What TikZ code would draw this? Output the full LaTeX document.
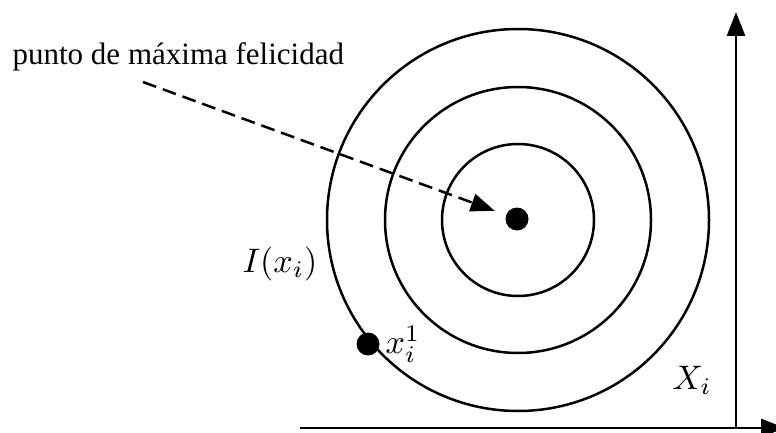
\documentclass[tikz,border=0pt]{standalone}
\usepackage[no-math]{fontspec}
\setmainfont{Liberation Serif}
\usetikzlibrary{arrows.meta}
\tikzset{
  ring/.style={line width=2.5pt},
  axisline/.style={line width=2.8pt, -{Triangle[length=24pt,width=18pt]}},
  dotnode/.style={circle, fill=black, inner sep=0pt, minimum size=23pt},
  mathlbl/.style={inner sep=0pt, font=\fontsize{10}{12}\selectfont, scale=3.4},
  txtlbl/.style={inner sep=0pt, font=\fontsize{10}{12}\selectfont, scale=3.1},
  dasharrow/.style={line width=2.5pt, dash pattern=on 14pt off 7pt, -{Triangle[length=24pt,width=18pt]}}
}
\begin{document}
\begin{tikzpicture}[x=1pt, y=-1pt]
\useasboundingbox (0,0) rectangle (776,433);
\clip (0,0) rectangle (776,433);
% rings
\coordinate (o) at (518,220);
\draw[ring] (o) circle (76);
\draw[ring] (o) circle (133);
\draw[ring] (o) circle (191);
% dots
\node[dotnode] (c) at (517,219) {};
\node[dotnode] (x1) at (368,344) {};
% axes
\coordinate (hx0) at (300,428);
\coordinate (hx1) at (785,428);
\coordinate (vy0) at (736,428);
\coordinate (vy1) at (736,12);
\draw[axisline] (hx0) -- (hx1);
\draw[axisline] (vy0) -- (vy1);
% labels
\node[txtlbl, anchor=base west] (t) at (12,65) {punto de máxima felicidad};
\node[mathlbl] (ilbl) at (280,264) {$I(x_i)$};
\node[mathlbl] (xlbl) at (403,344) {$x_i^1$};
\node[mathlbl] (Xlbl) at (692,380) {$X_i$};
% dashed arrow
\coordinate (s) at (143,82);
\draw[dasharrow, shorten >=12pt] (s) -- (c);
\end{tikzpicture}
\end{document}
